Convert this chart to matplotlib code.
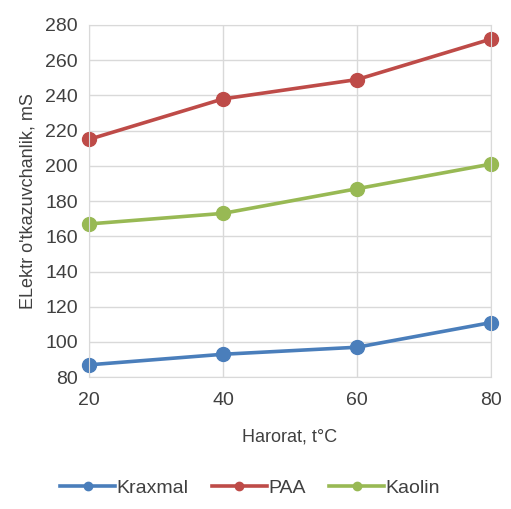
# conductivity vs temperature plot

import matplotlib.pyplot as plt

temps = [20, 40, 60, 80]
kraxmal = [87, 93, 97, 111]
paa = [215, 238, 249, 272]
kaolin = [167, 173, 187, 201]

plt.rcParams['font.family'] = ['Liberation Sans', 'DejaVu Sans']

fig = plt.figure(figsize=(5.11, 5.09), dpi=100)
ax = fig.add_axes([0.174, 0.259, 0.787, 0.692])

style = dict(lw=2.6, marker='o', markersize=10, clip_on=False)
ax.plot(temps, kraxmal, color='#4a7ebb', label='Kraxmal', **style)
ax.plot(temps, paa, color='#be4b48', label='PAA', **style)
ax.plot(temps, kaolin, color='#98b954', label='Kaolin', **style)

ax.set_xlim(20, 80)
ax.set_ylim(80, 280)
ax.set_xticks(temps)
ax.set_yticks(range(80, 281, 20))
ax.grid(True, color='#d9d9d9', lw=1)
ax.set_axisbelow(True)
for s in ax.spines.values():
    s.set_color('#d9d9d9')
ax.tick_params(length=0, labelsize=14, colors='#404040', pad=8)
ax.tick_params(axis='x', pad=11)

ax.set_xlabel('Harorat, t°C', fontsize=13, color='#404040', labelpad=14)
ax.set_ylabel("ELektr o'tkazuvchanlik, mS", fontsize=13, color='#404040', labelpad=6)

fig.legend(loc='lower center', bbox_to_anchor=(0.49, -0.01), ncol=3, frameon=False,
           fontsize=14, handlelength=2.8, columnspacing=1.2, handletextpad=0.1,
           markerscale=0.6, labelcolor='#404040')

fig.savefig('out.png', dpi=100)
